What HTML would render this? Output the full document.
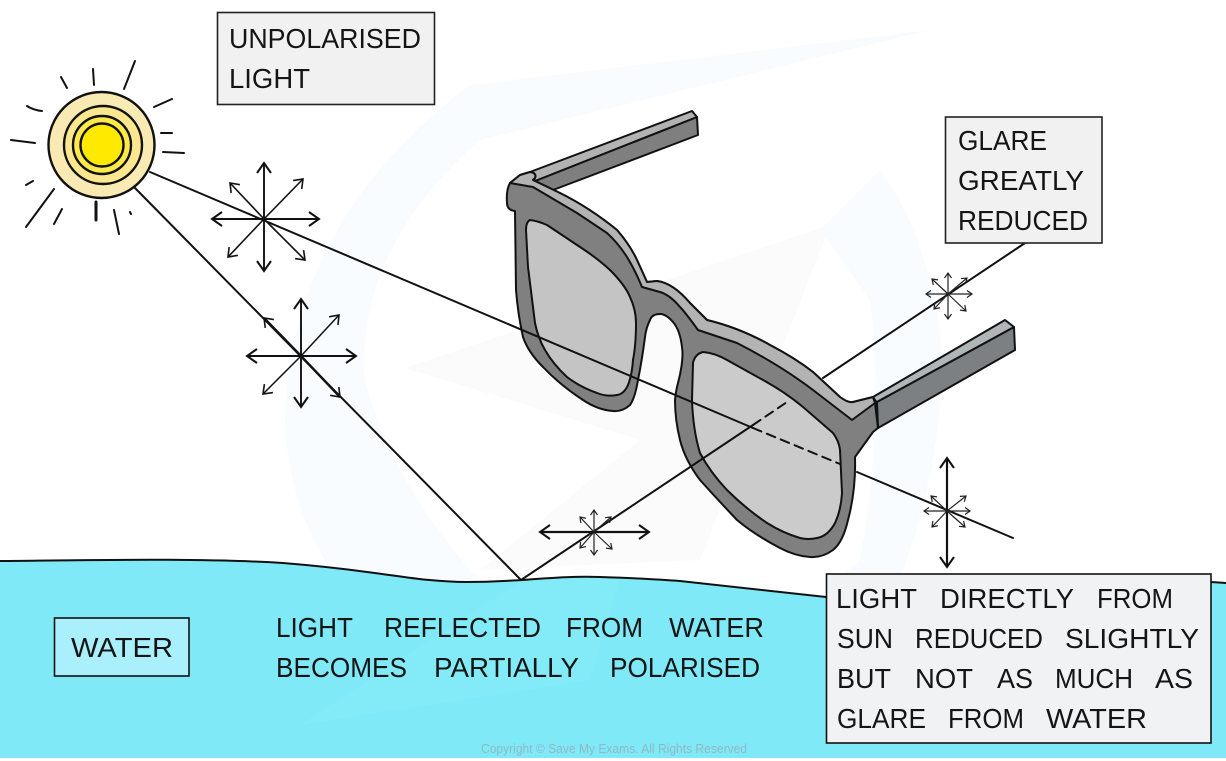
<!DOCTYPE html>
<html><head><meta charset="utf-8"><style>
html,body{margin:0;padding:0;background:#fff}
svg{display:block}
text{font-family:"Liberation Sans",sans-serif;font-size:28px;fill:#151515}
.l{fill:none;stroke:#111;stroke-width:2;stroke-linecap:round;stroke-linejoin:round}
.o{stroke:#111;stroke-width:2;stroke-linejoin:round}
.r{stroke:#111;stroke-width:2.4}
.a{stroke:#111;stroke-width:1.9;fill:none}
.as{stroke:#222;stroke-width:1.2;fill:none}
</style></head><body>
<svg width="1226" height="761" viewBox="0 0 1226 761" xmlns="http://www.w3.org/2000/svg">
<defs>
<marker id="h" markerUnits="userSpaceOnUse" markerWidth="24" markerHeight="24" refX="12" refY="12" orient="auto"><path d="M2,5 L12,12 L2,19" fill="none" stroke="#111" stroke-width="2"/></marker>
<marker id="m" markerUnits="userSpaceOnUse" markerWidth="20" markerHeight="20" refX="10" refY="10" orient="auto"><path d="M2,4 L10,10 L2,16" fill="none" stroke="#111" stroke-width="1.6"/></marker>
<marker id="s" markerUnits="userSpaceOnUse" markerWidth="14" markerHeight="14" refX="7" refY="7" orient="auto"><path d="M2,3.5 L7,7 L2,10.5" fill="none" stroke="#222" stroke-width="1.2"/></marker>
</defs>
<rect width="1226" height="761" fill="#fff"/>
<!-- watermark -->
<path d="M930,30 L470,85 Q290,220 285,420 Q290,600 500,725 L560,660 Q400,520 365,380 Q355,250 480,140 Z" fill="#f8fcff"/>
<path d="M870,300 Q885,420 860,560 L825,590 L900,580 Q950,440 940,330 Q925,230 880,170 L820,230 Z" fill="#f9fcff"/>
<path d="M405,368 L830,225 L700,560 L480,570 L640,440 Z" fill="#fbfbfb"/>
<!-- water -->
<path d="M0,561 C100,560 200,558 283,563 C320,566 345,569 367,572 C400,576 430,582 467,582 C490,582 505,581 522,580 C550,578 575,576 600,577 C630,578 655,579 680,581 L826,597 L826,574 L1211,574 L1211,582 L1226,583 L1226,758 L0,758 Z" fill="#7fe9f7"/>
<path d="M520,582 L620,578 L590,680 L300,725 L430,640 Z" fill="#83eaf8"/>
<path class="l" d="M0,561 C100,560 200,558 283,563 C320,566 345,569 367,572 C400,576 430,582 467,582 C490,582 505,581 522,580 C550,578 575,576 600,577 C630,578 655,579 680,581 L826,597"/>
<path class="l" d="M1211,582 L1226,583"/>
<!-- sun -->
<circle cx="101.5" cy="145" r="53" fill="#f9eab3" class="r"/>
<circle cx="103" cy="145" r="39" fill="#fbe78e" class="r"/>
<circle cx="102" cy="145" r="29" fill="#fdea4a" class="r"/>
<circle cx="102" cy="145" r="21.5" fill="#ffe900" class="r"/>
<g class="l">
<path d="M61,77 L67,88M93,69 L94,85M135,61 L124,89M172,99 L154,107M161,133 L172,133M163,152 L184,153M27,106 Q33,110 42,111M11,140 L35,143M26,185 L33,181M54,189 L26,227M62,209 L54,224M114,210 L119,234M130,212 L131,214"/>
<path d="M96,202 L96,220" stroke-width="3"/>
</g>
<!-- left arm -->
<path d="M535,181 L697,117 L698,135 L553,190 Z" fill="#7f7f7f" class="o"/>
<path d="M530,172 L692,111 L697,117 L535,181 Z" fill="#b2b2b2" class="o"/>
<!-- right arm -->
<path d="M875,403 L1014,327 L1015,350 L878,428 Z" fill="#7c8082" class="o"/>
<path d="M873,397 L1005,320 L1014,327 L875,403 Z" fill="#b0b5b8" class="o"/>
<!-- frame -->
<path class="o" fill="#808080" d="M510,183 L520,175 L530,172 Q537,173 535,178 L533,180 L560,193 Q590,208 617,230 Q630,245 637,260 L647,282 L657,281 Q673,283 690,303 L707,320 Q740,328 770,345 Q795,358 813,372 L840,397 Q848,403 853,402 L873,397 L877,403 L878,428 L873,432 L855,457 Q856,490 848,520 Q843,542 833,550 Q822,558 810,557 Q795,556 780,548 Q755,535 737,520 Q718,500 700,480 Q685,460 680,440 Q675,420 675,400 Q676,390 678,383 Q684,360 682,347 Q680,330 673,322 Q666,314 660,314 Q652,314 650,320 Q646,328 645,337 Q642,360 638,380 Q635,398 630,405 Q622,412 613,411 Q598,410 583,400 Q560,385 543,367 Q528,352 523,337 Q518,315 516,290 L515,211 Q507,210 507,203 Q506,190 510,183 Z"/>
<path class="o" fill="#b3b3b3" d="M510,183 L520,175 L530,172 Q537,173 535,178 L533,180 L560,193 Q590,208 617,230 Q630,245 637,260 L647,282 L657,281 Q673,283 690,303 L707,320 Q740,328 770,345 Q795,358 813,372 L840,397 Q848,403 853,402 L873,397 L875,403 L852,420 L813,390 Q780,365 737,343 L698,330 Q685,312 680,307 Q670,295 660,292 L642,287 Q635,270 627,257 Q618,243 607,233 L577,213 L533,187 Z"/>
<path class="o" fill="#c4c4c4" d="M530,220 Q538,221 547,225 L580,247 Q597,258 610,270 Q625,285 630,297 Q636,310 636,323 Q636,345 633,360 Q632,375 628,385 Q624,394 617,395 Q607,397 597,393 Q580,387 567,377 Q553,364 545,350 Q538,338 535,323 L528,267 L526,230 Q526,222 530,220 Z"/>
<path class="o" fill="#cbcbcb" d="M703,352 Q715,353 727,360 L763,380 Q785,392 803,407 L833,433 Q839,441 840,450 L842,493 Q841,510 835,523 Q828,536 817,538 Q808,540 800,538 Q783,533 767,523 Q745,508 727,490 Q710,472 700,453 Q693,430 692,400 L693,363 Q695,354 703,352 Z"/>
<path class="o" fill="none" d="M875,403 L878,428"/>
<!-- light rays -->
<g class="l">
<path d="M150,172 L753,428"/>
<path d="M857,472 L1013,538"/>
<path d="M134,187 L521,580 L753,425"/>
<path d="M823,378 L1025,243"/>
<path d="M753,425 L790,400" stroke-dasharray="9 6"/>
<path d="M753,428 L840,464" stroke-dasharray="9 6"/>
</g>
<!-- stars -->
<g class="a">
<path marker-end="url(#h)" d="M264,219 L264,163"/><path marker-end="url(#h)" d="M264,219 L264,271"/>
<path marker-end="url(#h)" d="M264,219 L212,219"/><path marker-end="url(#h)" d="M264,219 L319,219"/>
<path marker-end="url(#m)" d="M264,219 L230,183" stroke-width="1.6"/><path marker-end="url(#m)" d="M264,219 L303,179" stroke-width="1.6"/>
<path marker-end="url(#m)" d="M264,219 L228,257" stroke-width="1.6"/><path marker-end="url(#m)" d="M264,219 L305,260" stroke-width="1.6"/>
<path marker-end="url(#h)" d="M301,356 L301,299"/><path marker-end="url(#h)" d="M301,356 L301,407"/>
<path marker-end="url(#h)" d="M301,356 L247,356"/><path marker-end="url(#h)" d="M301,356 L356,356"/>
<path marker-end="url(#m)" d="M301,356 L264,318" stroke-width="2.4"/><path marker-end="url(#m)" d="M301,356 L339,315" stroke-width="1.5"/>
<path marker-end="url(#m)" d="M301,356 L263,394" stroke-width="1.5"/><path marker-end="url(#m)" d="M301,356 L340,397" stroke-width="2.4"/>
<path marker-end="url(#h)" d="M594,532 L540,532" stroke-width="2.2"/><path marker-end="url(#h)" d="M594,532 L649,532" stroke-width="2.2"/>
<path marker-end="url(#h)" d="M947,511 L947,458" stroke-width="2.2"/><path marker-end="url(#h)" d="M947,511 L947,567" stroke-width="2.2"/>
</g>
<g class="as">
<path marker-end="url(#s)" d="M594,532 L594,510"/><path marker-end="url(#s)" d="M594,532 L594,555"/>
<path marker-end="url(#s)" d="M594,532 L580,517"/><path marker-end="url(#s)" d="M594,532 L611,517"/>
<path marker-end="url(#s)" d="M594,532 L580,548"/><path marker-end="url(#s)" d="M594,532 L612,549"/>
<path marker-end="url(#s)" d="M948,294 L948,273"/><path marker-end="url(#s)" d="M948,294 L948,319"/>
<path marker-end="url(#s)" d="M948,294 L926,294"/><path marker-end="url(#s)" d="M948,294 L972,294"/>
<path marker-end="url(#s)" d="M948,294 L932,279"/><path marker-end="url(#s)" d="M948,294 L967,278"/>
<path marker-end="url(#s)" d="M948,294 L934,309"/><path marker-end="url(#s)" d="M948,294 L966,311"/>
<path marker-end="url(#s)" d="M947,511 L924,511"/><path marker-end="url(#s)" d="M947,511 L970,511"/>
<path marker-end="url(#s)" d="M947,511 L931,496"/><path marker-end="url(#s)" d="M947,511 L966,496"/>
<path marker-end="url(#s)" d="M947,511 L932,527"/><path marker-end="url(#s)" d="M947,511 L965,527"/>
</g>
<!-- boxes -->
<rect x="217.5" y="12.5" width="217" height="92" fill="#f1f1f1" stroke="#222" stroke-width="1.6"/>
<rect x="945.5" y="117" width="156.5" height="126" fill="#f1f1f1" stroke="#222" stroke-width="1.6"/>
<rect x="826.5" y="574" width="384.5" height="169" fill="#f1f2f3" stroke="#111" stroke-width="1.6"/>
<rect x="54.5" y="618" width="134.5" height="58" fill="#a9f0fc" stroke="#111" stroke-width="1.6"/>
<!-- text -->
<g>
<text x="229" y="48" textLength="192" lengthAdjust="spacingAndGlyphs">UNPOLARISED</text>
<text x="229" y="88" textLength="81" lengthAdjust="spacingAndGlyphs">LIGHT</text>
<text x="958" y="150" textLength="89" lengthAdjust="spacingAndGlyphs">GLARE</text>
<text x="958" y="190" textLength="126" lengthAdjust="spacingAndGlyphs">GREATLY</text>
<text x="958" y="230" textLength="130" lengthAdjust="spacingAndGlyphs">REDUCED</text>
<text x="836" y="608" textLength="81" lengthAdjust="spacingAndGlyphs">LIGHT</text>
<text x="940" y="608" textLength="134" lengthAdjust="spacingAndGlyphs">DIRECTLY</text>
<text x="1097" y="608" textLength="76" lengthAdjust="spacingAndGlyphs">FROM</text>
<text x="837" y="648" textLength="56" lengthAdjust="spacingAndGlyphs">SUN</text>
<text x="915" y="648" textLength="128" lengthAdjust="spacingAndGlyphs">REDUCED</text>
<text x="1065" y="648" textLength="134" lengthAdjust="spacingAndGlyphs">SLIGHTLY</text>
<text x="837" y="688" textLength="54" lengthAdjust="spacingAndGlyphs">BUT</text>
<text x="915" y="688" textLength="58" lengthAdjust="spacingAndGlyphs">NOT</text>
<text x="997" y="688" textLength="36" lengthAdjust="spacingAndGlyphs">AS</text>
<text x="1055" y="688" textLength="78" lengthAdjust="spacingAndGlyphs">MUCH</text>
<text x="1155" y="688" textLength="38" lengthAdjust="spacingAndGlyphs">AS</text>
<text x="837" y="728" textLength="89" lengthAdjust="spacingAndGlyphs">GLARE</text>
<text x="948" y="728" textLength="76" lengthAdjust="spacingAndGlyphs">FROM</text>
<text x="1046" y="728" textLength="101" lengthAdjust="spacingAndGlyphs">WATER</text>
<text x="276" y="637" textLength="77" lengthAdjust="spacingAndGlyphs">LIGHT</text>
<text x="384" y="637" textLength="157" lengthAdjust="spacingAndGlyphs">REFLECTED</text>
<text x="566" y="637" textLength="77" lengthAdjust="spacingAndGlyphs">FROM</text>
<text x="669" y="637" textLength="95" lengthAdjust="spacingAndGlyphs">WATER</text>
<text x="276" y="677" textLength="131" lengthAdjust="spacingAndGlyphs">BECOMES</text>
<text x="434" y="677" textLength="145" lengthAdjust="spacingAndGlyphs">PARTIALLY</text>
<text x="610" y="677" textLength="150" lengthAdjust="spacingAndGlyphs">POLARISED</text>
<text x="71" y="657" textLength="102" lengthAdjust="spacingAndGlyphs">WATER</text>
<text x="481" y="753" textLength="266" lengthAdjust="spacingAndGlyphs" style="font-size:13px;fill:#8fb9c4">Copyright © Save My Exams. All Rights Reserved</text>
</g>
</svg>
</body></html>
